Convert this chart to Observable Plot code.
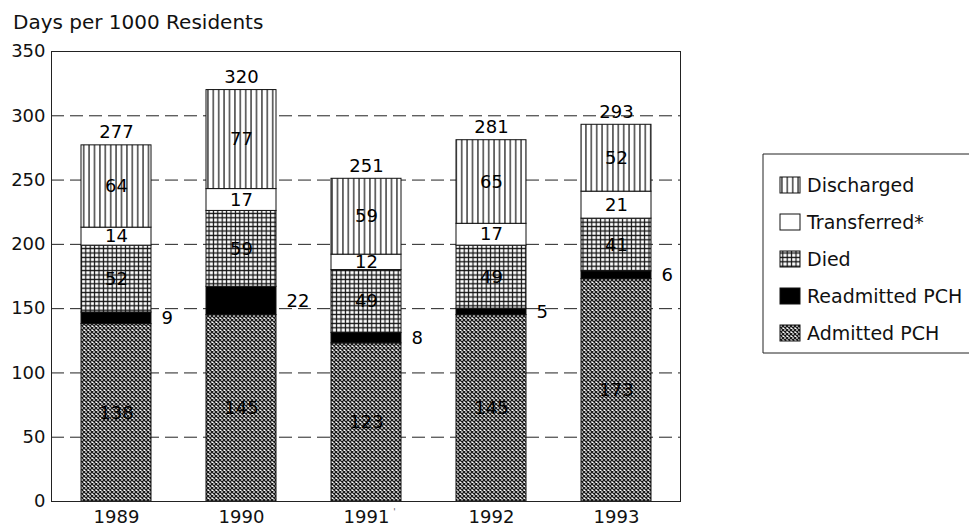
<!DOCTYPE html>
<html>
<head>
<meta charset="utf-8">
<script src="https://cdn.jsdelivr.net/npm/d3@7"></script>
<script src="https://cdn.jsdelivr.net/npm/@observablehq/plot@0.6"></script>
<style>
  html, body { margin: 0; padding: 0; background: #fff; }
  #wrap { position: relative; width: 969px; height: 528px; overflow: hidden; font-family: "DejaVu Sans", Arial, Helvetica, sans-serif; }
  #overlay { position: absolute; left: 0; top: 0; pointer-events: none; }
  #wrap svg g[aria-label*="axis"], #wrap svg g[aria-label*="axis"] text { font-size: 18px !important; }
</style>
</head>
<body>
<svg width="0" height="0" style="position:absolute">
  <defs>
    <pattern id="pDis" patternUnits="userSpaceOnUse" width="5.4" height="10">
      <rect width="5.4" height="10" fill="#fff"/>
      <line x1="2.7" y1="0" x2="2.7" y2="10" stroke="#111" stroke-width="1.2"/>
    </pattern>
    <pattern id="pDied" patternUnits="userSpaceOnUse" width="4.4" height="4.4">
      <rect width="4.4" height="4.4" fill="#fff"/>
      <path d="M2.2,0V4.4M0,2.2H4.4" stroke="#111" stroke-width="1.2"/>
    </pattern>
    <pattern id="pAdm" patternUnits="userSpaceOnUse" width="4" height="4">
      <rect width="4" height="4" fill="#fff"/>
      <path d="M0,0L4,4M4,0L0,4" stroke="#1a1a1a" stroke-width="1.3"/>
    </pattern>
  </defs>
</svg>
<div id="wrap"></div>
<script>
const years = ["1989", "1990", "1991", "1992", "1993"];
const series = ["Admitted PCH", "Readmitted PCH", "Died", "Transferred*", "Discharged"];
const admitted = [138, 145, 123, 145, 173];
const readmitted = [9, 22, 8, 5, 6];
const died = [52, 59, 49, 49, 41];
const transferred = [14, 17, 12, 17, 21];
const discharged = [64, 77, 59, 65, 52];
const totals = [277, 320, 251, 281, 293];
const yTicks = [0, 50, 100, 150, 200, 250, 300, 350];
const title = "Days per 1000 Residents";
const legendOrder = ["Discharged", "Transferred*", "Died", "Readmitted PCH", "Admitted PCH"];

const fills = {
  "Admitted PCH": "url(#pAdm)",
  "Readmitted PCH": "#000",
  "Died": "url(#pDied)",
  "Transferred*": "#fff",
  "Discharged": "url(#pDis)"
};

const valuesBySeries = [admitted, readmitted, died, transferred, discharged];
const rows = [];
years.forEach((yr, i) => {
  let base = 0;
  series.forEach((s, k) => {
    const v = valuesBySeries[k][i];
    rows.push({year: yr, type: s, value: v, y1: base, y2: base + v, mid: base + v / 2});
    base += v;
  });
});
const totalRows = years.map((yr, i) => ({year: yr, total: totals[i]}));

const FONT = "\"DejaVu Sans\", Arial, Helvetica, sans-serif";

const chart = Plot.plot({
  width: 969,
  height: 528,
  marginLeft: 51,
  marginRight: 289,
  marginTop: 51,
  marginBottom: 27,
  style: {fontFamily: FONT, fontSize: "18px", color: "#111", background: "transparent", overflow: "visible"},
  x: {domain: years, paddingInner: 0.444, paddingOuter: 0.222, label: null, tickSize: 0, tickPadding: 9},
  y: {domain: [0, 350], ticks: yTicks, label: null, tickSize: 0, tickPadding: 6},
  color: {domain: series, range: series.map(s => fills[s])},
  marks: [
    Plot.ruleY(yTicks.filter(t => t > 0 && t < 350), {stroke: "#222", strokeWidth: 1, strokeDasharray: "13,6"}),
    Plot.barY(rows, {x: "year", y1: "y1", y2: "y2", fill: "type", stroke: "#111", strokeWidth: 1}),
    Plot.frame({stroke: "#222", strokeWidth: 1}),
    Plot.text(rows.filter(d => d.type !== "Readmitted PCH"), {
      x: "year", y: "mid", text: d => String(d.value), fontSize: 18, fill: "#000"
    }),
    Plot.text(rows.filter(d => d.type === "Readmitted PCH"), {
      x: "year", y: "mid", text: d => String(d.value), fontSize: 18, fill: "#000",
      textAnchor: "start", dx: 45
    }),
    Plot.text(totalRows, {
      x: "year", y: "total", text: d => String(d.total), fontSize: 18, fill: "#000",
      lineAnchor: "bottom", dy: -7
    }),
    Plot.text(["1991"], {x: d => d, y: () => 0, text: () => "'", fontSize: 9, fill: "#666", dx: 28, dy: 11})
  ]
});

const wrap = document.getElementById("wrap");
wrap.appendChild(chart);

// Title and legend overlay
const ov = d3.select(wrap).append("svg").attr("id", "overlay").attr("width", 969).attr("height", 528)
  .style("font-family", FONT);
ov.append("text").attr("x", 13).attr("y", 29).attr("font-size", 20).attr("fill", "#111").text(title);

const lg = ov.append("g").attr("transform", "translate(763,154)");
lg.append("path").attr("d", "M230,0H0V199H230").attr("fill", "none").attr("stroke", "#222").attr("stroke-width", 1);
legendOrder.forEach((s, i) => {
  const cy = 31 + i * 37;
  lg.append("rect").attr("x", 17).attr("y", cy - 8).attr("width", 20).attr("height", 16)
    .attr("fill", fills[s]).attr("stroke", "#111").attr("stroke-width", 1);
  lg.append("text").attr("x", 44).attr("y", cy).attr("dy", "0.35em").attr("font-size", 19).attr("fill", "#111").text(s);
});
</script>
</body>
</html>
